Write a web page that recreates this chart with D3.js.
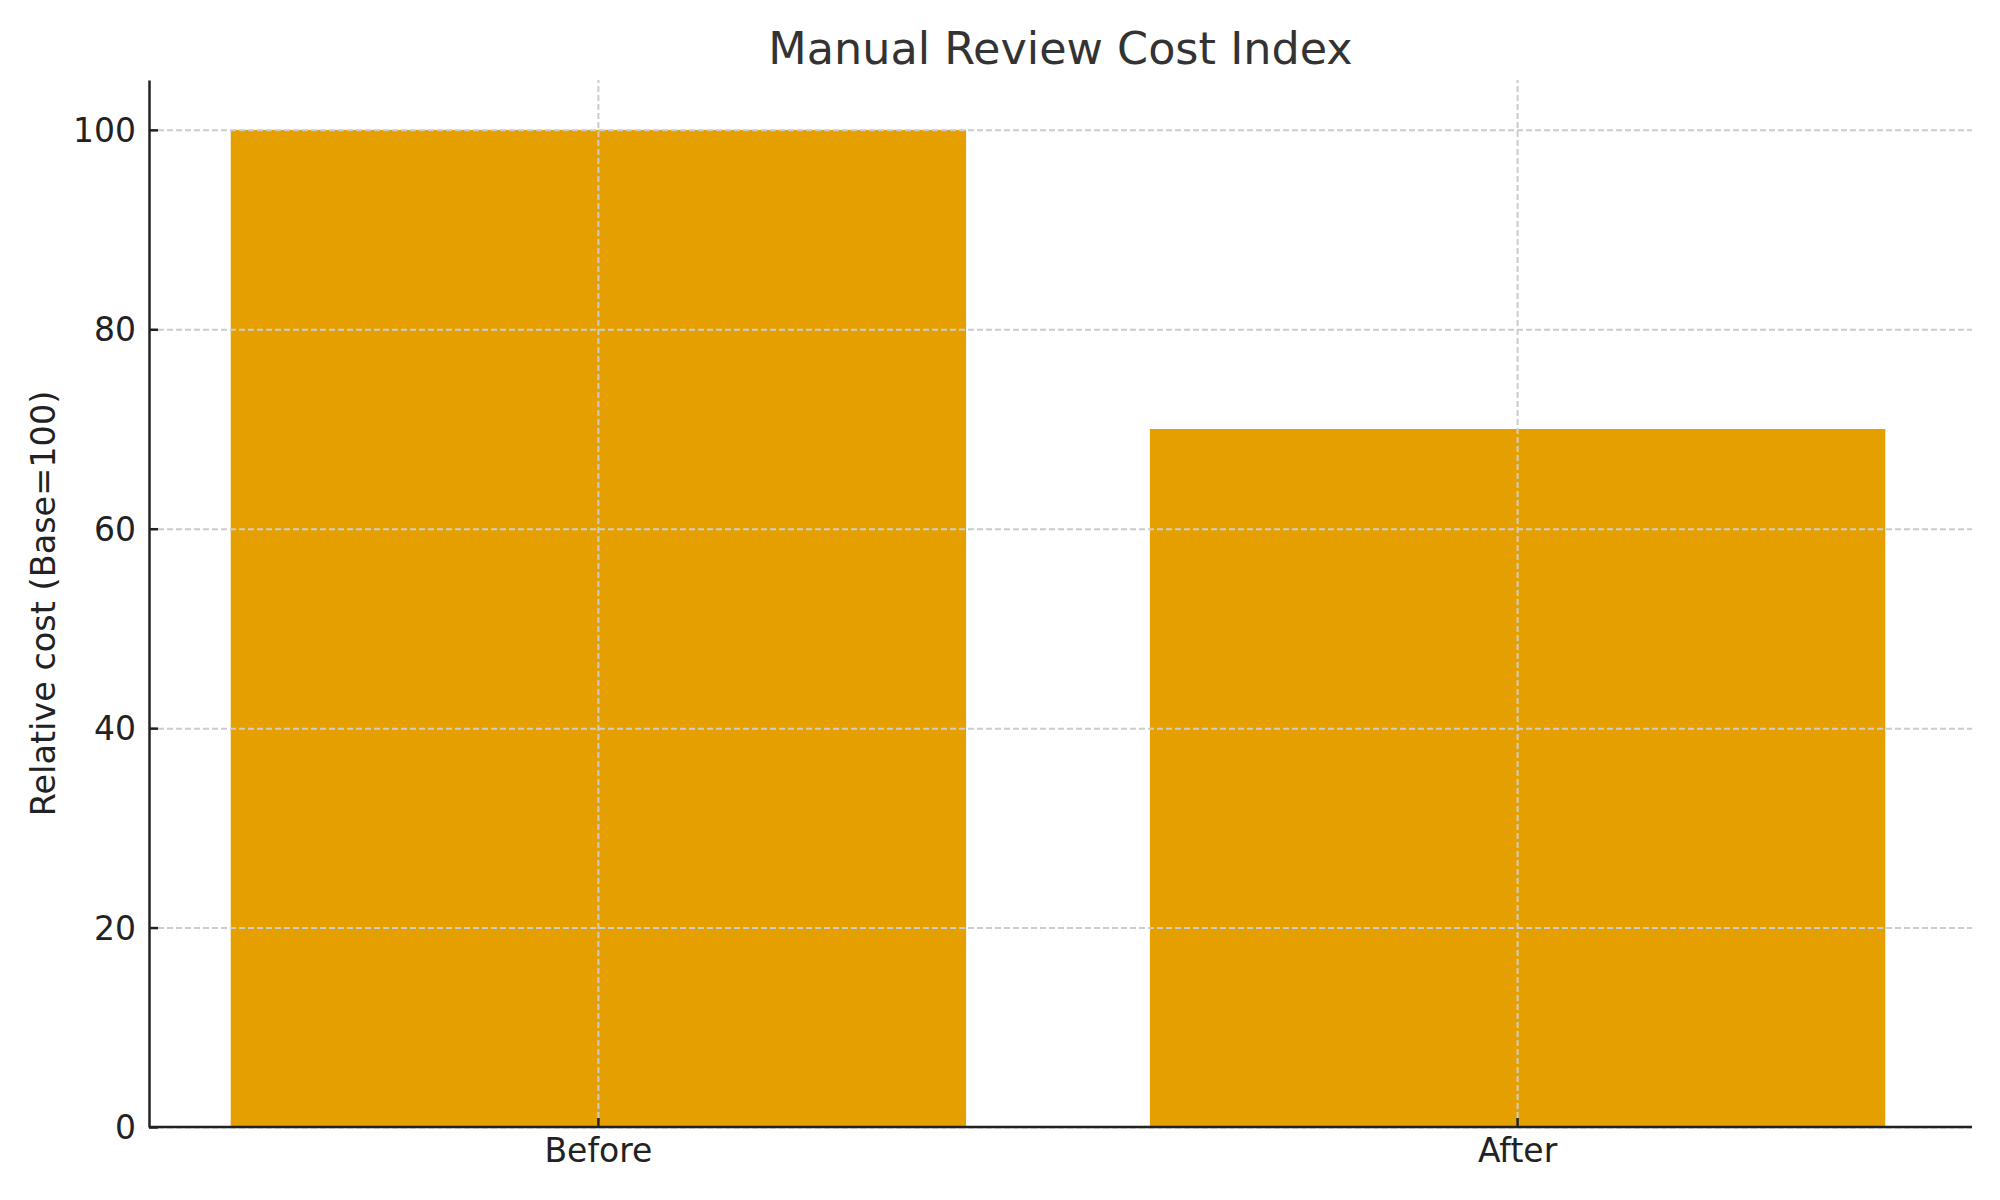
<!DOCTYPE html>
<html>
<head>
    <title>Manual Review Cost Index - D3.js</title>
    <script src="https://d3js.org/d3.v7.min.js"></script>
    <style>
        body {
            margin: 0;
            background: #fff;
        }

        .axis text {
            font-family: "DejaVu Sans", sans-serif;
            font-size: 33px;
            fill: #222;
        }

        .axis path,
        .axis line {
            stroke: #222;
            stroke-width: 2.5;
        }

        .grid line {
            stroke: #cccccc;
            stroke-width: 2;
            stroke-dasharray: 6 3;
        }

        .grid path {
            display: none;
        }

        .bar {
            fill: #e5a000;
        }

        .chart-title {
            font-family: "DejaVu Sans", sans-serif;
            font-size: 44.5px;
            fill: #333;
            text-anchor: middle;
        }

        .axis-title {
            font-family: "DejaVu Sans", sans-serif;
            font-size: 33.5px;
            fill: #222;
            text-anchor: middle;
        }
    </style>
</head>
<body>

    <div id="chart"></div>

    <script>
        // data
        const categories = ["Before", "After"];
        const costValues = [100, 70];
        const yTicks = [0, 20, 40, 60, 80, 100];

        // ukuran
        const svgWidth = 2000;
        const svgHeight = 1200;
        const margin = { top: 80, right: 28, bottom: 73, left: 149 };
        const width = svgWidth - margin.left - margin.right;
        const height = svgHeight - margin.top - margin.bottom;

        const svg = d3.select("#chart")
            .append("svg")
            .attr("width", svgWidth)
            .attr("height", svgHeight);

        const g = svg.append("g")
            .attr("transform", `translate(${margin.left},${margin.top})`);

        // skala
        const xScale = d3.scaleBand()
            .domain(categories)
            .range([-1, width - 4])
            .paddingInner(0.2)
            .paddingOuter(0.09);

        const yScale = d3.scaleLinear()
            .domain([0, 105])
            .range([height, 0]);

        const data = categories.map((c, i) => ({ name: c, value: costValues[i] }));

        // batang
        g.selectAll(".bar")
            .data(data)
            .enter()
            .append("rect")
            .attr("class", "bar")
            .attr("x", d => xScale(d.name))
            .attr("y", d => yScale(d.value))
            .attr("width", xScale.bandwidth())
            .attr("height", d => height - yScale(d.value));

        // grid (di atas batang)
        g.append("g")
            .attr("class", "grid")
            .call(d3.axisLeft(yScale)
                .tickValues(yTicks)
                .tickSize(-width)
                .tickFormat(""));

        g.append("g")
            .attr("class", "grid")
            .attr("transform", `translate(0,${height})`)
            .call(d3.axisBottom(xScale)
                .tickSizeInner(-height)
                .tickSizeOuter(0)
                .tickFormat(""));

        // sumbu Y
        g.append("g")
            .attr("class", "axis y-axis")
            .call(d3.axisLeft(yScale)
                .tickValues(yTicks)
                .tickSizeInner(-9)
                .tickSizeOuter(0)
                .tickPadding(13));

        // sumbu X
        g.append("g")
            .attr("class", "axis x-axis")
            .attr("transform", `translate(0,${height})`)
            .call(d3.axisBottom(xScale)
                .tickSizeInner(-9)
                .tickSizeOuter(0)
                .tickPadding(12));

        // garis sumbu X penuh
        g.select(".x-axis .domain").attr("d", `M0,0H${width}`);

        g.selectAll(".y-axis .tick text").attr("dy", "0.35em");
        g.selectAll(".x-axis .tick text").attr("dy", "0.71em");

        // judul sumbu Y
        svg.append("text")
            .attr("class", "axis-title")
            .attr("transform", "rotate(-90)")
            .attr("x", -(margin.top + height / 2))
            .attr("y", 43)
            .attr("dy", "0.35em")
            .text("Relative cost (Base=100)");

        // judul chart
        svg.append("text")
            .attr("class", "chart-title")
            .attr("x", margin.left + width / 2)
            .attr("y", 64)
            .text("Manual Review Cost Index");
    </script>

</body>
</html>
